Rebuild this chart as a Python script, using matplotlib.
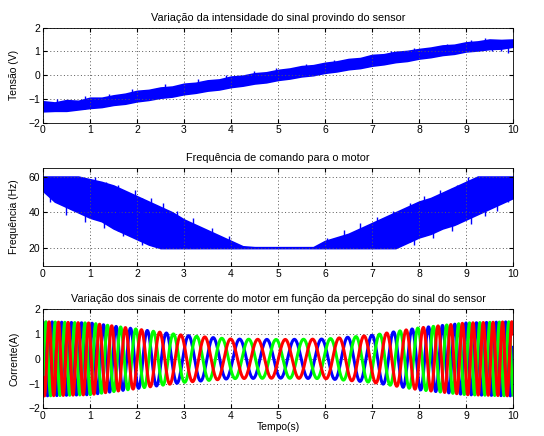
import numpy as np
import matplotlib
matplotlib.use('Agg')
import matplotlib.pyplot as plt

plt.rcParams['font.family'] = ['Liberation Sans', 'DejaVu Sans']
plt.rcParams['font.size'] = 7.5

# time knots (s), every 0.25 s
t_knots = np.arange(0, 10.01, 0.25)

# sensor voltage band (V)
sensor_upper = [-1.10, -1.15, -1.05, -1.08, -0.95, -0.95, -0.85, -0.78, -0.66, -0.62,
                -0.52, -0.48, -0.36, -0.32, -0.22, -0.18, -0.06, -0.02, 0.08, 0.12,
                0.22, 0.28, 0.38, 0.42, 0.52, 0.58, 0.68, 0.72, 0.85, 0.88,
                0.98, 1.02, 1.10, 1.16, 1.25, 1.28, 1.38, 1.42, 1.50, 1.48, 1.50]
sensor_lower = [-1.52, -1.50, -1.50, -1.44, -1.38, -1.34, -1.25, -1.20, -1.10, -1.04,
                -0.95, -0.90, -0.80, -0.74, -0.65, -0.60, -0.50, -0.44, -0.35, -0.30,
                -0.20, -0.14, -0.05, 0.00, 0.10, 0.16, 0.25, 0.30, 0.40, 0.46,
                0.55, 0.60, 0.70, 0.76, 0.85, 0.90, 1.00, 1.04, 1.10, 1.12, 1.20]
# noise spikes sticking out of the sensor band
sensor_spike_t = [0.3, 0.9, 1.4, 1.9, 2.6, 3.3, 3.9, 4.5, 4.95, 5.6, 6.2, 6.9, 7.4, 7.9, 8.6, 9.1, 9.4]
sensor_spike_y = [-1.0, -0.88, -0.78, -0.58, -0.38, -0.18, 0.02, 0.16, 0.3, 0.46, 0.62, 0.82, 1.02, 1.16, 1.32, 1.46, 1.56]
sensor_dip_t = [9.55, 9.75, 9.9]
sensor_dip_y = [1.0, 1.02, 0.95]

# command frequency band (Hz)
freq_upper = [60, 60, 60, 60, 58.5, 57, 55, 52, 49, 46,
              43, 40, 36, 33, 30, 27, 24, 21, 20.5, 20.5,
              20.5, 20.5, 20.5, 20.5, 24, 26, 28, 31, 34, 37,
              40, 43, 46, 48, 51, 54, 57, 60, 60, 60, 60]
freq_lower = [52, 46, 43, 40, 37, 35, 31, 28, 25, 22,
              20, 20, 20, 20, 20, 20, 20, 20, 20, 20,
              20, 20, 20, 20, 20, 20, 20, 20, 20, 20,
              20, 23, 26, 28, 31, 33, 36, 39, 42, 45, 48]
freq_spike_t = [1.1, 1.35, 1.6, 1.95, 2.3, 2.55, 2.85, 3.2, 3.6, 3.95,
                6.05, 6.4, 6.75, 7.1, 7.45, 7.8, 8.1, 8.45, 8.8, 9.05]
freq_spike_y = [59.5, 57, 55.5, 52.5, 48, 45, 40.5, 37, 31.5, 26.5,
                25.5, 30, 34, 37.5, 41, 45.5, 49, 52.5, 55.5, 59.5]
freq_dip_t = [0.15, 0.5, 0.9, 1.3, 1.7, 2.1, 7.9, 8.3, 8.7, 9.1, 9.4, 9.65, 9.9]
freq_dip_y = [46, 38.5, 34.5, 31.5, 26.5, 21.5, 21.5, 25.5, 29.5, 33.5, 38, 40.5, 46]

# motor current: cycles per second and amplitude (A) at each second
cur_t = [0, 1, 2, 3, 4, 5, 6, 7, 8, 9, 10]
cur_freq = [5.2, 4.4, 2.8, 2.0, 1.75, 1.7, 1.75, 2.0, 2.8, 4.4, 5.2]
cur_amp = [1.5, 1.45, 1.2, 0.95, 0.8, 0.78, 0.8, 0.95, 1.25, 1.45, 1.5]
phase_colors = ['#0000ff', '#00ff00', '#ff0000']

fig = plt.figure(figsize=(5.44, 4.36), dpi=100)
ax1 = fig.add_axes([0.079, 0.7186, 0.864, 0.218])
ax2 = fig.add_axes([0.079, 0.390, 0.864, 0.2255])
ax3 = fig.add_axes([0.079, 0.0635, 0.864, 0.227])

blue = '#0000ff'
ax1.fill_between(t_knots, sensor_lower, sensor_upper, color=blue, lw=1.2, edgecolor=blue)
ax1.vlines(sensor_spike_t, np.interp(sensor_spike_t, t_knots, sensor_lower), sensor_spike_y, color=blue, lw=1)
ax1.vlines(sensor_dip_t, sensor_dip_y, np.interp(sensor_dip_t, t_knots, sensor_upper), color=blue, lw=1)
ax1.set_ylim(-2, 2)
ax1.set_yticks([-2, -1, 0, 1, 2])
ax1.set_ylabel('Tensão (V)')
ax1.set_title('Variação da intensidade do sinal provindo do sensor', fontsize=7.8, pad=5)

ax2.fill_between(t_knots, freq_lower, freq_upper, color=blue, lw=1.2, edgecolor=blue)
ax2.vlines(freq_spike_t, np.interp(freq_spike_t, t_knots, freq_lower), freq_spike_y, color=blue, lw=1)
ax2.vlines(freq_dip_t, freq_dip_y, np.interp(freq_dip_t, t_knots, freq_upper), color=blue, lw=1)
ax2.set_ylim(10, 65)
ax2.set_yticks([20, 40, 60])
ax2.set_ylabel('Frequência (Hz)')
ax2.set_title('Frequência de comando para o motor', fontsize=7.8, pad=5)

t = np.linspace(0, 10, 5001)
f = np.interp(t, cur_t, cur_freq)
a = np.interp(t, cur_t, cur_amp)
ph = 2 * np.pi * np.concatenate([[0], np.cumsum(f[:-1] * np.diff(t))])
for k, c in enumerate(phase_colors):
    ax3.plot(t, a * np.cos(ph - k * 2 * np.pi / 3), color=c, lw=2.2)
ax3.set_ylim(-2, 2)
ax3.set_yticks([-2, -1, 0, 1, 2])
ax3.set_ylabel('Corrente(A)')
ax3.set_xlabel('Tempo(s)', labelpad=1)
ax3.set_title('Variação dos sinais de corrente do motor em função da percepção do sinal do sensor',
              fontsize=7.8, pad=5)

for ax in (ax1, ax2, ax3):
    ax.set_xlim(0, 10)
    ax.set_xticks(range(11))
    ax.grid(True, color='0.35', linestyle=(0, (1, 2.5)), linewidth=0.7)
    ax.tick_params(direction='in', top=True, right=True, length=3, labelsize=7.5, pad=2)
    ax.yaxis.set_label_coords(-0.05, 0.5)
    for s in ax.spines.values():
        s.set_linewidth(0.6)

fig.savefig('out.png', dpi=100)
